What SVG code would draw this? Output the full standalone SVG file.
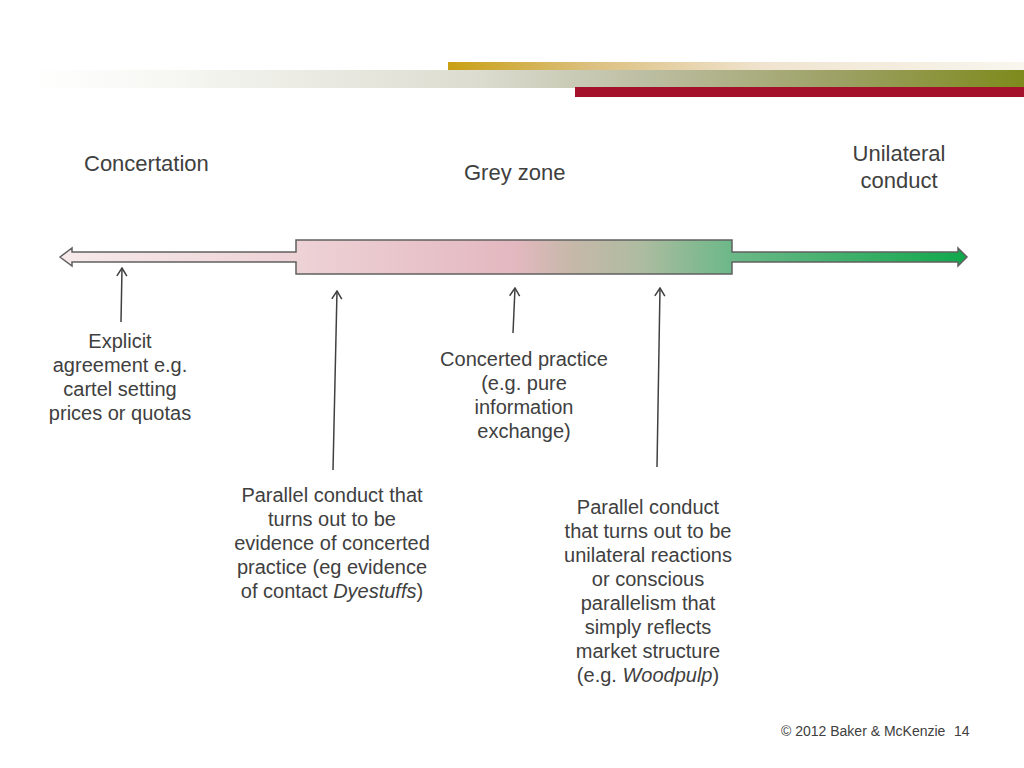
<svg xmlns="http://www.w3.org/2000/svg" width="1024" height="768" viewBox="0 0 1024 768">
<style>
text { font-family: "Liberation Sans", Arial, sans-serif; fill: #404040; }
.title { font-size: 22px; }
.body { font-size: 20px; text-anchor: middle; }
.foot { font-size: 14px; }
.ptr { stroke: #404040; stroke-width: 1.5; fill: none; marker-end: url(#open); }
</style>
<defs>
<marker id="open" viewBox="0 0 12 12" refX="11" refY="6" markerWidth="12" markerHeight="12" markerUnits="userSpaceOnUse" orient="auto">
<polyline points="3,1 11,6 3,11" fill="none" stroke="#404040" stroke-width="1.5"/>
</marker>
<linearGradient id="band" gradientUnits="userSpaceOnUse" x1="30" y1="0" x2="1024" y2="0">
<stop offset="0" stop-color="#ffffff"/>
<stop offset="0.15" stop-color="#f6f6f2"/>
<stop offset="0.45" stop-color="#dcdcd0"/>
<stop offset="0.62" stop-color="#bcbea2"/>
<stop offset="0.82" stop-color="#9ca062"/>
<stop offset="1" stop-color="#7e8a1c"/>
</linearGradient>
<linearGradient id="gold" gradientUnits="userSpaceOnUse" x1="448" y1="0" x2="1024" y2="0">
<stop offset="0" stop-color="#c9a014"/>
<stop offset="0.25" stop-color="#dcc080"/>
<stop offset="0.55" stop-color="#f0e4d0"/>
<stop offset="1" stop-color="#f8f6ee"/>
</linearGradient>
<linearGradient id="scale" gradientUnits="userSpaceOnUse" x1="60" y1="0" x2="967" y2="0">
<stop offset="0" stop-color="#f7eaea"/>
<stop offset="0.26" stop-color="#edd2d6"/>
<stop offset="0.5" stop-color="#e4b8c0"/>
<stop offset="0.56" stop-color="#c8b8aa"/>
<stop offset="0.64" stop-color="#aebca0"/>
<stop offset="0.74" stop-color="#6cb888"/>
<stop offset="1" stop-color="#10a84c"/>
</linearGradient>
</defs>

<g id="header">
<rect x="448" y="62" width="576" height="8" fill="url(#gold)"/>
<rect x="30" y="70" width="994" height="18" fill="url(#band)"/>
<rect x="575" y="87" width="449" height="10" fill="#a3112a"/>
</g>

<g id="scale-arrow">
<path d="M60,257 L72,248 L72,252 L296,252 L296,240 L732,240 L732,252 L958,252 L958,248 L967,257 L958,266 L958,262 L732,262 L732,274 L296,274 L296,262 L72,262 L72,266 Z" fill="url(#scale)" stroke="#606060" stroke-width="1.5" stroke-linejoin="miter"/>
</g>

<g id="label-concertation">
<text class="title" x="84" y="171">Concertation</text>
</g>
<g id="label-grey-zone">
<text class="title" x="464" y="180">Grey zone</text>
</g>
<g id="label-unilateral">
<text class="title" x="899" y="161" text-anchor="middle">Unilateral</text>
<text class="title" x="899" y="188" text-anchor="middle">conduct</text>
</g>

<g id="connectors">
<line class="ptr" x1="121" y1="322" x2="122" y2="268"/>
<line class="ptr" x1="333" y1="470" x2="337" y2="291"/>
<line class="ptr" x1="513" y1="333" x2="515" y2="288"/>
<line class="ptr" x1="657" y1="467" x2="660" y2="288"/>
</g>

<g id="node-explicit">
<text class="body" x="120" y="348">Explicit</text>
<text class="body" x="120" y="372">agreement e.g.</text>
<text class="body" x="120" y="396">cartel setting</text>
<text class="body" x="120" y="420">prices or quotas</text>
</g>

<g id="node-concerted">
<text class="body" x="524" y="366">Concerted practice</text>
<text class="body" x="524" y="390">(e.g. pure</text>
<text class="body" x="524" y="414">information</text>
<text class="body" x="524" y="438">exchange)</text>
</g>

<g id="node-parallel-dyestuffs">
<text class="body" x="332" y="502">Parallel conduct that</text>
<text class="body" x="332" y="526">turns out to be</text>
<text class="body" x="332" y="550">evidence of concerted</text>
<text class="body" x="332" y="574">practice (eg evidence</text>
<text class="body" x="332" y="598">of contact <tspan font-style="italic">Dyestuffs</tspan>)</text>
</g>

<g id="node-parallel-woodpulp">
<text class="body" x="648" y="514">Parallel conduct</text>
<text class="body" x="648" y="538">that turns out to be</text>
<text class="body" x="648" y="562">unilateral reactions</text>
<text class="body" x="648" y="586">or conscious</text>
<text class="body" x="648" y="610">parallelism that</text>
<text class="body" x="648" y="634">simply reflects</text>
<text class="body" x="648" y="658">market structure</text>
<text class="body" x="648" y="682">(e.g. <tspan font-style="italic">Woodpulp</tspan>)</text>
</g>

<g id="footer">
<text class="foot" x="781" y="736">© 2012 Baker &amp; McKenzie</text>
<text class="foot" x="954" y="736">14</text>
</g>
</svg>
